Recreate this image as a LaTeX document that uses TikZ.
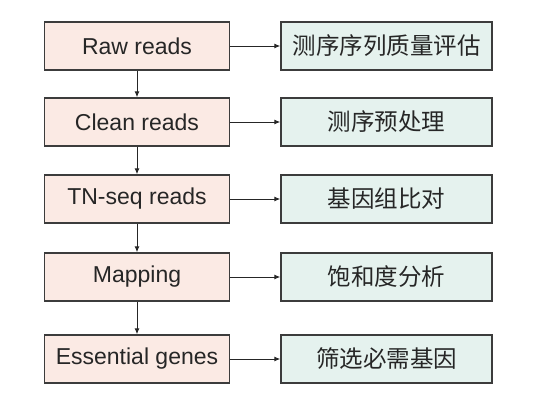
\documentclass[tikz,border=0pt]{standalone}
\usepackage{fontspec}
\setmainfont{Liberation Sans}
\newfontfamily\cjk{Noto Sans CJK SC}
\usetikzlibrary{arrows.meta}
\definecolor{leftfill}{HTML}{FBEAE4}
\definecolor{rightfill}{HTML}{E5F2EE}
\definecolor{edge}{HTML}{3C3C3C}
\begin{document}
\begin{tikzpicture}[x=1pt,y=-1pt,
  lbox/.style={draw=edge,line width=1.4pt,fill=leftfill,minimum width=185pt,minimum height=48pt,inner sep=0pt,font=\fontsize{23}{25}\selectfont,text=black!85},
  rbox/.style={draw=edge,line width=1.4pt,fill=rightfill,minimum width=211pt,minimum height=48pt,inner sep=0pt,font=\cjk\fontsize{23.5}{25}\selectfont,text=black!85},
  arr/.style={draw=black!85,line width=1pt,-{Latex[length=6pt,width=5pt]}}]
\useasboundingbox (0,0) rectangle (560,402);
\node[lbox] (l1) at (137,46) {Raw reads};
\node[lbox] (l2) at (137,122) {Clean reads};
\node[lbox] (l3) at (137,199) {TN-seq reads};
\node[lbox] (l4) at (137,277) {Mapping};
\node[lbox] (l5) at (137,359) {Essential genes};
\node[rbox] (r1) at (386.5,46) {测序序列质量评估};
\node[rbox] (r2) at (386.5,122) {测序预处理};
\node[rbox] (r3) at (386.5,199) {基因组比对};
\node[rbox] (r4) at (386.5,277) {饱和度分析};
\node[rbox] (r5) at (386.5,359) {筛选必需基因};
\foreach \i in {1,...,5}{\draw[arr] (l\i) -- (r\i);}
\draw[arr] (l1) -- (l2);
\draw[arr] (l2) -- (l3);
\draw[arr] (l3) -- (l4);
\draw[arr] (l4) -- (l5);
\end{tikzpicture}
\end{document}
